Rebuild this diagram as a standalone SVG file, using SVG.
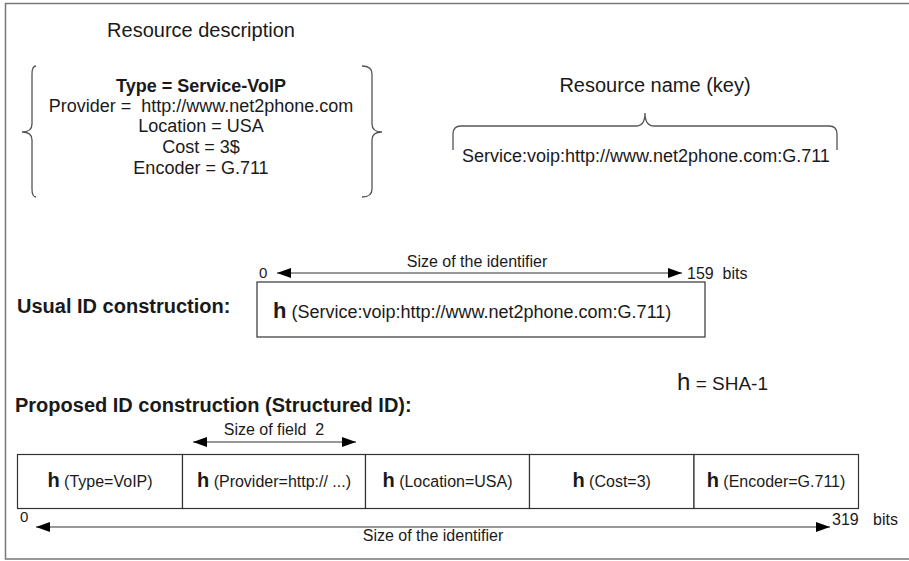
<svg xmlns="http://www.w3.org/2000/svg" width="909" height="561" viewBox="0 0 909 561">
  <style>
    text { font-family: "Liberation Sans", Arial, sans-serif; fill: #1a1a1a; }
    .title { font-size: 20px; }
    .attr { font-size: 18px; }
    .bold { font-weight: bold; }
    .small { font-size: 16px; }
    .num { font-size: 15px; }
    .brace { fill: none; stroke: #555; stroke-width: 1.3; }
    .box { fill: #fff; stroke: #333; stroke-width: 1.2; }
    .dim { stroke: #333; stroke-width: 1.2; fill: none; marker-start: url(#head); marker-end: url(#head); }
  </style>
  <defs>
    <marker id="head" viewBox="0 0 14 10" refX="14" refY="5" markerWidth="14" markerHeight="10" markerUnits="userSpaceOnUse" orient="auto-start-reverse">
      <path d="M0,0 L14,5 L0,10 z" fill="#000"/>
    </marker>
  </defs>

  <rect width="909" height="561" fill="#fff"/>
  <!-- outer frame (open on the right) -->
  <path d="M909,3.5 H5.5 V559 H909" fill="none" stroke="#777" stroke-width="1.5"/>

  <!-- resource description -->
  <g id="resource-description">
    <text class="title" x="201" y="37" text-anchor="middle">Resource description</text>
    <path class="brace" d="M36,66 Q32,66 32,74 V124 Q32,132 22,132 Q32,132 32,140 V189 Q32,197 36,197"/>
    <path class="brace" d="M362,66 Q372,66 372,74 V124 Q372,132 382,132 Q372,132 372,140 V189 Q372,197 362,197"/>
    <text class="attr bold" x="201" y="92" text-anchor="middle">Type = Service-VoIP</text>
    <text class="attr" x="201" y="112" text-anchor="middle" xml:space="preserve">Provider =  http://www.net2phone.com</text>
    <text class="attr" x="201" y="132" text-anchor="middle">Location = USA</text>
    <text class="attr" x="201" y="153" text-anchor="middle">Cost = 3$</text>
    <text class="attr" x="201" y="174" text-anchor="middle">Encoder = G.711</text>
  </g>

  <!-- resource name -->
  <g id="resource-name">
    <text class="title" x="655" y="92" text-anchor="middle">Resource name (key)</text>
    <path class="brace" d="M453,150 V134 Q453,126 461,126 H636 Q645,126 645,113 Q645,126 654,126 H829 Q837,126 837,134 V150"/>
    <text class="attr" x="462" y="162">Service:voip:http://www.net2phone.com:G.711</text>
  </g>

  <!-- usual ID -->
  <g id="usual-id">
    <text class="title bold" x="17" y="313">Usual ID construction:</text>
    <text class="small" x="477" y="267" text-anchor="middle">Size of the identifier</text>
    <text class="num" x="259" y="278">0</text>
    <text class="small" x="687" y="279" xml:space="preserve">159  bits</text>
    <rect class="box" x="257" y="282" width="448" height="55"/>
    <text x="273" y="318"><tspan class="bold" style="font-size:22px">h</tspan><tspan class="attr"> (Service:voip:http://www.net2phone.com:G.711)</tspan></text>
  </g>

  <g id="hash-def">
    <text x="677" y="390"><tspan style="font-size:24px">h</tspan><tspan style="font-size:19px"> = SHA-1</tspan></text>
  </g>

  <!-- structured ID -->
  <g id="structured-id">
    <text class="title bold" x="15" y="412">Proposed ID construction (Structured ID):</text>
    <text class="small" x="274" y="435" text-anchor="middle" xml:space="preserve">Size of field  2</text>
  </g>
  <g id="field-type">
    <rect class="box" x="17.5" y="454.5" width="165" height="54"/>
    <text x="100" y="487" text-anchor="middle"><tspan class="bold" style="font-size:20px">h</tspan><tspan class="small"> (Type=VoIP)</tspan></text>
  </g>
  <g id="field-provider">
    <rect class="box" x="182.5" y="454.5" width="183" height="54"/>
    <text x="274" y="487" text-anchor="middle"><tspan class="bold" style="font-size:20px">h</tspan><tspan class="small"> (Provider=http:// ...)</tspan></text>
  </g>
  <g id="field-location">
    <rect class="box" x="365.5" y="454.5" width="164" height="54"/>
    <text x="447.5" y="487" text-anchor="middle"><tspan class="bold" style="font-size:20px">h</tspan><tspan class="small"> (Location=USA)</tspan></text>
  </g>
  <g id="field-cost">
    <rect class="box" x="529.5" y="454.5" width="164.5" height="54"/>
    <text x="611.7" y="487" text-anchor="middle"><tspan class="bold" style="font-size:20px">h</tspan><tspan class="small"> (Cost=3)</tspan></text>
  </g>
  <g id="field-encoder">
    <rect class="box" x="694" y="454.5" width="164.5" height="54"/>
    <text x="776" y="487" text-anchor="middle"><tspan class="bold" style="font-size:20px">h</tspan><tspan class="small"> (Encoder=G.711)</tspan></text>
  </g>
  <g id="structured-dims">
    <text class="num" x="20" y="522">0</text>
    <text class="small" x="832" y="525">319</text>
    <text class="small" x="873" y="525">bits</text>
    <text class="small" x="433" y="541" text-anchor="middle">Size of the identifier</text>
  </g>

  <!-- dimension arrows -->
  <g id="connectors">
    <line class="dim" x1="277" y1="273" x2="682" y2="273"/>
    <line class="dim" x1="193" y1="442" x2="356" y2="442"/>
    <line class="dim" x1="36" y1="527" x2="830" y2="527"/>
  </g>
</svg>
